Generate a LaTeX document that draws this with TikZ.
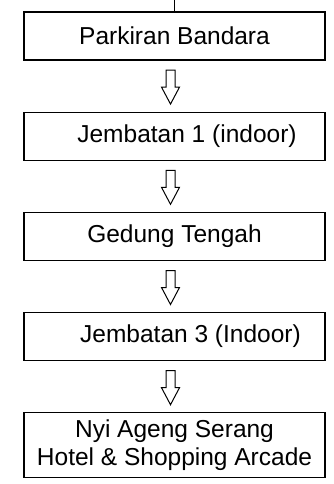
\documentclass[tikz,border=0pt]{standalone}
\usepackage{fontspec}
\setmainfont{Liberation Sans}
\usepackage{tikz}
\usetikzlibrary{positioning}

\begin{document}
\begin{tikzpicture}[
  node distance=51pt,
  place/.style={rectangle, draw=black, line width=1.2pt, minimum width=301pt,
    minimum height=48pt, align=center, inner sep=0pt,
    font=\fontsize{24.5}{28}\selectfont},
  flowarrow/.style={draw=black, line width=1pt, fill=white, line join=miter},
]
  \useasboundingbox (0,0) rectangle (333pt,-484pt);

  \node[place] (p1) at (174.5pt,-36pt) {Parkiran Bandara};
  \node[place, below=of p1] (p2) {\hspace*{25pt}Jembatan 1 (indoor)};
  \node[place, below=of p2] (p3) {Gedung Tengah};
  \node[place, below=of p3] (p4) {\hspace*{32pt}Jembatan 3 (Indoor)};
  \node[place, below=of p4, minimum height=65pt] (p5) {Nyi Ageng Serang\\Hotel \& Shopping Arcade};

  \coordinate (entry) at (174.5pt,0pt);
  \draw[line width=1.2pt] (entry) -- (p1);

  % hollow block arrows between the boxes
  \foreach \a/\b in {p1/p2, p2/p3, p3/p4, p4/p5} {
    \path (\a) -- (\b) coordinate[pos=0.5, xshift=-4pt, yshift=-1pt] (m\a);
    \draw[flowarrow] (m\a) ++(-4.5pt,17pt) -- ++(9pt,0) -- ++(0,-17pt)
      -- ++(4.5pt,0) -- ++(-9pt,-17pt) -- ++(-9pt,17pt) -- ++(4.5pt,0) -- cycle;
  }
\end{tikzpicture}
\end{document}
